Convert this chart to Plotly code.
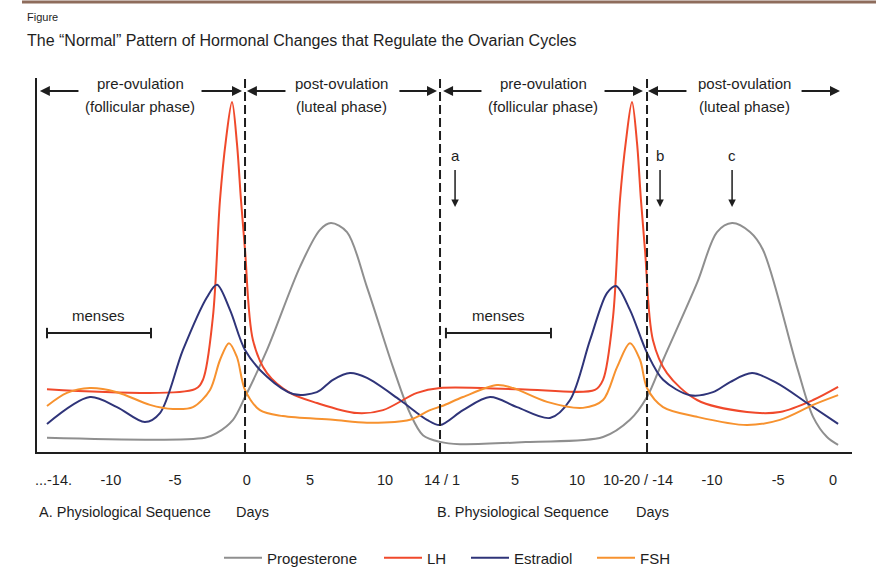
import plotly.graph_objects as go

# ---- data (x in days along the two schematic cycles, y in relative level 0-100) ----
prog_x = [-13.41, -2.49, -1.66, -0.55, 0.28, 1.80, 4.08, 5.46, 6.22, 7.33, 8.71, 10.51, 11.68, 12.58, 13.76,
          15.14, 19.98, 25.03, 26.89, 28.07, 29.18, 31.53, 32.91, 33.95, 35.19, 36.09, 38.44, 39.55, 40.51, 41.28]
prog_y = [3.8, 3.8, 5.1, 8.6, 14.7, 27.3, 49.5, 59.4, 61.2, 58.8, 44.1, 22.7, 10.4, 4.5, 2.7,
          2.1, 2.7, 4.0, 8.6, 14.7, 24.6, 45.2, 58.8, 61.2, 58.8, 54.0, 22.7, 9.4, 4.0, 1.9]

lh_x = [-13.41, -3.18, -2.63, -1.94, -1.45, -1.04, -0.62, -0.28, 0.0, 0.28, 0.83, 1.80, 3.39, 5.25, 8.02, 9.82,
        12.17, 13.76, 19.29, 24.47, 25.03, 25.72, 26.20, 26.62, 27.03, 27.38, 27.65, 27.93, 28.48, 29.45,
        31.53, 34.98, 37.26, 39.55, 41.28]
lh_y = [16.8, 16.8, 19.3, 36.1, 67.4, 83.4, 93.6, 82.6, 67.4, 54.0, 29.9, 21.1, 15.8, 13.1, 10.4, 11.2,
        15.8, 17.1, 16.8, 16.6, 19.3, 36.1, 67.4, 83.4, 93.6, 82.6, 67.4, 54.0, 29.9, 21.1,
        13.9, 10.7, 10.7, 13.9, 17.4]

est_x = [-13.41, -10.44, -8.57, -6.64, -5.60, -4.01, -2.35, -1.66, -0.76, 0.28, 1.80, 3.60, 5.25, 6.36, 7.54,
         8.71, 10.99, 12.86, 13.76, 15.35, 17.22, 19.08, 21.36, 22.75, 24.13, 25.30, 25.93, 26.89, 28.07,
         29.18, 31.04, 32.63, 33.81, 35.33, 37.06, 39.13, 41.28]
est_y = [7.5, 14.7, 12.0, 8.0, 10.4, 27.3, 41.4, 44.7, 38.0, 27.3, 20.1, 15.5, 16.0, 19.3, 21.1,
         19.8, 13.9, 8.6, 7.2, 11.2, 14.7, 12.0, 9.1, 13.9, 29.9, 42.5, 44.4, 38.0, 26.5,
         19.3, 15.2, 16.0, 18.7, 21.1, 18.4, 13.1, 7.5]

fsh_x = [-13.41, -12.03, -10.44, -8.57, -6.29, -4.70, -3.32, -2.14, -1.45, -0.83, -0.28, 0.28, 1.31, 2.90,
         6.36, 8.71, 11.68, 13.07, 13.90, 15.35, 17.70, 18.81, 21.16, 23.64, 25.03, 26.00, 26.89, 27.59,
         28.07, 29.18, 31.53, 34.98, 37.26, 39.55, 41.28]
fsh_y = [12.3, 15.8, 17.1, 16.0, 12.6, 11.5, 12.0, 16.6, 24.6, 29.1, 25.4, 16.6, 11.2, 9.6,
         8.6, 7.8, 8.6, 11.2, 12.3, 14.7, 17.9, 17.1, 13.4, 11.8, 13.9, 22.7, 29.1, 24.6,
         17.1, 12.0, 9.4, 7.2, 8.6, 12.6, 15.2]

tick_days = [-12.96, -8.99, -4.56, 0.41, 4.77, 9.96, 13.90, 18.94, 23.23, 27.45, 32.56, 37.13, 40.93]
tick_labels = ["...-14.", "-10", "-5", "0", "5", "10", "14 / 1", "5", "10", "10-20 / -14", "-10", "-5", "0"]

ovulation_days = [0.28, 28.07]
cycle_boundary_days = [13.76]

phase_labels = [("pre-ovulation", "(follicular phase)", -6.98),
                ("post-ovulation", "(luteal phase)", 6.98),
                ("pre-ovulation", "(follicular phase)", 20.88),
                ("post-ovulation", "(luteal phase)", 34.78)]
phase_arrows = [(-11.13, -13.9), (-2.83, 0.07), (3.18, 0.41), (10.85, 13.55),
                (16.73, 13.97), (25.03, 27.79), (30.90, 28.14), (38.65, 41.41)]
point_labels = [("a", 14.80), ("b", 28.97), ("c", 33.95)]
menses = [(-13.41, -6.22), (14.17, 21.43)]

series = [("Progesterone", prog_x, prog_y), ("LH", lh_x, lh_y),
          ("Estradiol", est_x, est_y), ("FSH", fsh_x, fsh_y)]

FONT = "Liberation Sans"
COLORS = ["#8f8f8f", "#f0492b", "#2f3479", "#f7922f"]
INK = "#1e1e1e"

W, H = 876, 568
ML, MR, MT, MB = 37, 24, 78, 116
PW, PH = W - ML - MR, H - MT - MB


def px_to_paper_x(px):
    return (px - ML) / PW


def py_to_paper_y(py):
    return (H - MB - py) / PH


legend_starts = [219, 379, 466, 592]   # left edge of each legend entry (page px)

fig = go.Figure()
for i, ((name, xs, ys), col) in enumerate(zip(series, COLORS)):
    lg = "legend" if i == 0 else f"legend{i + 1}"
    fig.add_trace(go.Scatter(x=xs, y=ys, mode="lines", name=name, legend=lg,
                             line=dict(color=col, width=2, shape="spline", smoothing=0.9),
                             hoverinfo="skip"))

X0, X1 = -14.1, 42.24

# dashed vertical lines
for d in ovulation_days + cycle_boundary_days:
    fig.add_shape(type="line", x0=d, x1=d, y0=0, y1=100, xref="x", yref="y",
                  line=dict(color=INK, width=2, dash="9px,4px"))

tf = dict(size=15, color=INK, family=FONT)
annotations = []
for top, bottom, cx in phase_labels:
    annotations.append(dict(x=cx, y=98.6, xref="x", yref="y", text=top, showarrow=False, font=tf))
    annotations.append(dict(x=cx, y=92.4, xref="x", yref="y", text=bottom, showarrow=False, font=tf))
for tail, head in phase_arrows:
    annotations.append(dict(x=head, y=96.5, ax=tail, ay=96.5, xref="x", yref="y", axref="x", ayref="y",
                            text="", showarrow=True, arrowhead=2, arrowsize=1, arrowwidth=2,
                            arrowcolor=INK))
for lab, d in point_labels:
    annotations.append(dict(x=d, y=79.4, xref="x", yref="y", text=lab, showarrow=False, font=tf))
    annotations.append(dict(x=d, y=65.5, ax=d, ay=75.8, xref="x", yref="y", axref="x", ayref="y",
                            text="", showarrow=True, arrowhead=2, arrowsize=1, arrowwidth=1.5,
                            arrowcolor=INK))
for a, b in menses:
    annotations.append(dict(x=(a + b) / 2, y=36.6, xref="x", yref="y", text="menses", showarrow=False,
                            font=tf))
    fig.add_shape(type="line", x0=a, x1=b, y0=31.8, y1=31.8, xref="x", yref="y",
                  line=dict(color=INK, width=2))
    for e in (a, b):
        fig.add_shape(type="line", x0=e, x1=e, y0=30.4, y1=33.2, xref="x", yref="y",
                      line=dict(color=INK, width=2))

af = dict(size=14.5, color=INK, family=FONT)
row_y = py_to_paper_y(512)
annotations += [
    dict(x=0, y=row_y, xref="paper", yref="paper", xanchor="left", yanchor="middle",
         text="A. Physiological Sequence", showarrow=False, font=af),
    dict(x=0.83, y=row_y, xref="x", yref="paper", yanchor="middle", text="Days", showarrow=False, font=af),
    dict(x=13.41, y=row_y, xref="x", yref="paper", xanchor="left", yanchor="middle",
         text="B. Physiological Sequence", showarrow=False, font=af),
    dict(x=28.48, y=row_y, xref="x", yref="paper", yanchor="middle", text="Days", showarrow=False, font=af),
    dict(x=px_to_paper_x(25), y=py_to_paper_y(17), xref="paper", yref="paper", text="Figure",
         showarrow=False, xanchor="left", yanchor="middle", font=dict(size=11, color=INK, family=FONT)),
    dict(x=px_to_paper_x(25), y=py_to_paper_y(40), xref="paper", yref="paper",
         text="The \u201cNormal\u201d Pattern of Hormonal Changes that Regulate the Ovarian Cycles",
         showarrow=False, xanchor="left", yanchor="middle", font=dict(size=16, color=INK, family=FONT)),
]
fig.update_layout(annotations=annotations)

# top rule
fig.add_shape(type="line", xref="paper", yref="paper", x0=px_to_paper_x(22), x1=px_to_paper_x(W),
              y0=py_to_paper_y(2), y1=py_to_paper_y(2), line=dict(color="#8e6c5c", width=3))

legends = {}
for i, xs in enumerate(legend_starts):
    key = "legend" if i == 0 else f"legend{i + 1}"
    legends[key] = dict(orientation="h", xref="container", yref="container",
                        x=xs / W, xanchor="left", y=(H - 558) / H, yanchor="middle",
                        bgcolor="rgba(0,0,0,0)", font=dict(size=15, color=INK, family=FONT), itemwidth=38)

fig.update_layout(
    width=W, height=H,
    margin=dict(l=ML, r=MR, t=MT, b=MB, autoexpand=False),
    paper_bgcolor="white", plot_bgcolor="white",
    font=dict(family=FONT, size=14, color=INK),
    showlegend=True,
    xaxis=dict(range=[X0, X1], showgrid=False, zeroline=False, showline=True, linecolor=INK,
               linewidth=2, tickmode="array", tickvals=tick_days, ticktext=tick_labels, ticks="",
               ticklabelstandoff=14, tickfont=af, fixedrange=True),
    yaxis=dict(range=[0, 100], showgrid=False, zeroline=False, showline=True, linecolor=INK,
               linewidth=2, showticklabels=False, ticks="", fixedrange=True),
    **legends,
)

fig.write_html("out.html", config={"displayModeBar": False},
               post_script="document.body.style.margin='0px';document.body.style.padding='0px';")
